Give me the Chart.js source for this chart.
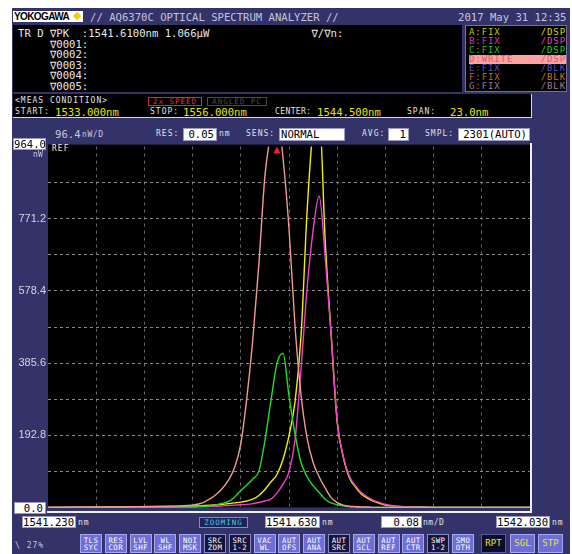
<!DOCTYPE html>
<html>
<head>
<meta charset="utf-8">
<script src="https://cdn.jsdelivr.net/npm/chart.js@4.4.1/dist/chart.umd.min.js"></script>
<style>
  html, body { margin: 0; padding: 0; background: #ffffff; }
  body { width: 572px; height: 554px; position: relative; overflow: hidden; }
  .abs { position: absolute; white-space: pre; }
  .big { font-family: 'DejaVu Sans Mono', monospace; font-size: 10.6px; line-height: 12px; }
  .sm  { font-family: 'DejaVu Sans Mono', monospace; font-size: 8px; letter-spacing: 1px; line-height: 10px; }
  .screen { left: 12px; top: 8px; width: 558px; height: 546px; background: #33336a; }
  .blk { background: #000000; }
  .valbox { background: #ffffff; color: #000000; border: 1px solid #9a9ac0; box-sizing: border-box;
            text-align: right; padding-right: 2px; }
  .btn { width: 22px; height: 19px; box-sizing: border-box; text-align: center; color: #ffffff;
         font-family: 'DejaVu Sans Mono', monospace; font-size: 7.4px; line-height: 7.6px; padding-top: 1.5px; letter-spacing: 0.4px; }
  .btn.light { background: #6e6ed6; border: 1px solid #a8a8f0; }
  .btn.dark  { background: #14143c; border: 1px solid #8a8ac8; }
  .run { width: 25px; height: 19px; box-sizing: border-box; text-align: center; color: #e8e820;
         font-family: 'DejaVu Sans Mono', monospace; font-size: 9px; line-height: 17px; }
  .row { left: 469px; width: 97px; height: 9px; font-family: 'DejaVu Sans Mono', monospace;
         font-size: 9px; line-height: 9px; letter-spacing: 0.9px; }
  .row span.r { position: absolute; right: 0; top: 0; }
  #plotBox { position: absolute; left: 12px; top: 138px; width: 521px; height: 378px; }
  #plotBox canvas { display: block; }
</style>
</head>
<body>
<div class="abs screen"></div>

<!-- header bar -->
<div class="abs" style="left:13px;top:11px;width:70px;height:11px;background:#ffffff;"></div>
<div class="abs" style="left:14px;top:10px;font:bold 10px 'Liberation Sans',sans-serif;letter-spacing:-0.6px;line-height:13px;color:#000;">YOKOGAWA</div>
<div class="abs" style="left:74px;top:13px;width:6px;height:6px;background:#f2d000;transform:rotate(45deg);"></div>
<div class="abs big" style="left:90px;top:11px;color:#c4c4dc;">// AQ6370C OPTICAL SPECTRUM ANALYZER //</div>
<div class="abs big" style="left:458px;top:11px;color:#c4c4dc;">2017 May 31 12:35</div>

<!-- marker readout -->
<div class="abs blk" style="left:13px;top:25px;width:449px;height:67px;"></div>
<div class="abs big" id="markerText" style="left:18px;top:28px;line-height:10.5px;color:#e8e8e8;"></div>

<!-- trace status -->
<div class="abs blk" style="left:465px;top:25px;width:102px;height:67px;border:1px solid #707094;box-sizing:border-box;"></div>
<div id="traceRows"></div>

<!-- measurement condition -->
<div class="abs blk" style="left:13px;top:94px;width:519px;height:24px;border-right:1px solid #d8d8d8;border-bottom:1px solid #d8d8d8;box-sizing:border-box;"></div>
<div class="abs sm" style="left:15px;top:96px;color:#e0e0e0;">&lt;MEAS CONDITION&gt;</div>
<div class="abs sm" style="left:148px;top:97px;width:54px;height:9px;border:1px solid #e02828;box-sizing:border-box;color:#e83030;text-align:center;line-height:8px;font-size:7.5px;">2x SPEED</div>
<div class="abs sm" style="left:207px;top:97px;width:60px;height:9px;border:1px solid #4a4a4a;box-sizing:border-box;color:#4a4a4a;text-align:center;line-height:8px;font-size:7.5px;">ANGLED PC</div>
<div class="abs sm" style="left:15px;top:107px;color:#e0e0e0;">START:</div>
<div class="abs big" id="startVal" style="left:55px;top:106px;color:#e6e600;"></div>
<div class="abs sm" style="left:150px;top:107px;color:#e0e0e0;">STOP:</div>
<div class="abs big" id="stopVal" style="left:183px;top:106px;color:#e6e600;"></div>
<div class="abs sm" style="left:275px;top:107px;color:#e0e0e0;letter-spacing:0.4px;">CENTER:</div>
<div class="abs big" id="centerVal" style="left:317px;top:106px;color:#e6e600;"></div>
<div class="abs sm" style="left:407px;top:107px;color:#e0e0e0;">SPAN:</div>
<div class="abs big" id="spanVal" style="left:450px;top:106px;color:#e6e600;"></div>

<!-- setting row -->
<div class="abs big" id="scaleVal" style="left:55px;top:128px;color:#c8c8dc;"></div>
<div class="abs sm" style="left:82px;top:130px;color:#c8c8dc;letter-spacing:0.6px;">nW/D</div>
<div class="abs sm" style="left:156px;top:129px;color:#e0e0e0;">RES:</div>
<div class="abs big valbox" style="left:183px;top:128px;width:34px;height:13px;line-height:11px;">0.05</div>
<div class="abs sm" style="left:219px;top:129px;color:#e0e0e0;">nm</div>
<div class="abs sm" style="left:246px;top:129px;color:#e0e0e0;">SENS:</div>
<div class="abs big valbox" style="left:279px;top:128px;width:66px;height:13px;line-height:11px;text-align:left;padding-left:1px;">NORMAL</div>
<div class="abs sm" style="left:362px;top:129px;color:#e0e0e0;">AVG:</div>
<div class="abs big valbox" style="left:388px;top:128px;width:21px;height:13px;line-height:11px;">1</div>
<div class="abs sm" style="left:425px;top:129px;color:#e0e0e0;">SMPL:</div>
<div class="abs big valbox" style="left:458px;top:128px;width:72px;height:13px;line-height:11px;">2301(AUTO)</div>

<!-- plot -->
<div id="plotBox"><canvas id="osa" width="521" height="378"></canvas></div>
<div class="abs" style="left:530px;top:143px;width:2px;height:370px;background:#f0f0f0;"></div>
<div class="abs" style="left:47px;top:511px;width:485px;height:2px;background:#f0f0f0;"></div>
<div class="abs sm" style="left:52px;top:144px;color:#f0f0f0;">REF</div>
<div class="abs big valbox" id="refBox" style="left:13px;top:138px;width:33px;height:12px;line-height:10px;"></div>
<div class="abs sm" style="left:33px;top:150px;color:#c8c8dc;letter-spacing:0.3px;">nW</div>
<div class="abs big valbox" id="zeroBox" style="left:14px;top:502px;width:32px;height:12px;line-height:10px;"></div>

<!-- wavelength readouts -->
<div class="abs big valbox" id="wlStart" style="left:22px;top:516px;width:54px;height:12px;line-height:10px;"></div>
<div class="abs sm" style="left:78px;top:518px;color:#e0e0e0;">nm</div>
<div class="abs sm" style="left:199px;top:517px;width:49px;height:11px;border:1px solid #30b4c8;box-sizing:border-box;color:#40d0e0;text-align:center;line-height:9px;font-size:7.5px;background:#22225a;">ZOOMING</div>
<div class="abs big valbox" id="wlCenter" style="left:265px;top:516px;width:55px;height:12px;line-height:10px;"></div>
<div class="abs sm" style="left:322px;top:518px;color:#e0e0e0;">nm</div>
<div class="abs big valbox" id="wlDiv" style="left:381px;top:516px;width:41px;height:12px;line-height:10px;"></div>
<div class="abs sm" style="left:423px;top:518px;color:#e0e0e0;letter-spacing:0.5px;">nm/D</div>
<div class="abs big valbox" id="wlStop" style="left:496px;top:516px;width:54px;height:12px;line-height:10px;"></div>
<div class="abs sm" style="left:552px;top:518px;color:#e0e0e0;">nm</div>

<!-- soft keys -->
<div id="keys"></div>
<div class="abs sm" style="left:15px;top:541px;color:#c8c8dc;">\ 27%</div>

<script>
// Stored trace samples (wavelength in nm, power in nW)
const wavelengths = [
  1541.23, 1541.28, 1541.33, 1541.38, 1541.42, 1541.45,
  1541.47, 1541.48, 1541.49, 1541.50, 1541.51, 1541.52, 1541.53, 1541.54, 1541.55, 1541.56,
  1541.57, 1541.58, 1541.59, 1541.60, 1541.61, 1541.62, 1541.63, 1541.64, 1541.65, 1541.66,
  1541.67, 1541.68, 1541.69, 1541.70, 1541.71, 1541.72, 1541.73, 1541.74, 1541.75, 1541.76,
  1541.77, 1541.78, 1541.79, 1541.80, 1541.82, 1541.85, 1541.90, 1541.96, 1542.03
];
const traceA = [
  0, 0, 1, 1, 2, 3,
  4, 4, 5, 6, 7, 8, 10, 12, 14, 17,
  22, 32, 48, 68, 88, 128, 192, 282, 458, 790,
  1010, 1060, 715, 460, 228, 135, 80, 55, 36, 25,
  17, 11, 6, 4, 2, 1, 0, 0, 0
];
const traceB = [
  0, 0, 0, 0, 1, 1,
  1, 2, 2, 3, 3, 4, 5, 6, 7, 8,
  10, 13, 17, 22, 38, 62, 95, 180, 370, 585,
  740, 832, 670, 462, 230, 137, 84, 58, 40, 28,
  19, 13, 8, 5, 2, 1, 0, 0, 0
];
const traceC = [
  0, 0, 0, 0, 0, 1,
  1, 2, 3, 4, 7, 11, 16, 28, 45, 60,
  76, 97, 178, 285, 385, 412, 298, 196, 120, 82,
  58, 40, 22, 12, 7, 4, 2, 1, 0, 0,
  0, 0, 0, 0, 0, 0, 0, 0, 0
];
const traceD = [
  0, 1, 1, 2, 3, 4,
  6, 9, 15, 24, 36, 52, 74, 108, 170, 292,
  450, 650, 885, 1000, 1066, 935, 745, 484, 300, 185,
  120, 82, 52, 26, 13, 6, 3, 2, 1, 1,
  0, 0, 0, 0, 0, 0, 0, 0, 0
];

// Axis settings: zoomed span, level scale and grid divisions
const wlTicks = [1541.23, 1541.31, 1541.39, 1541.47, 1541.55, 1541.63,
                 1541.71, 1541.79, 1541.87, 1541.95, 1542.03];
const levelTicks = [0, 96.4, 192.8, 289.2, 385.6, 482.0, 578.4, 674.8, 771.2, 867.6, 964.0];
const labelledLevels = [192.8, 385.6, 578.4, 771.2];
const refLevel = 964.0;
const levelPerDiv = 96.4;
const sweepStart = 1533.000, sweepStop = 1556.000;

// Peak marker on trace D
const markerWl = 1541.61;
const markerPower = 1066;

// Trace status list
const traceStatus = [
  ['A:FIX', '/DSP', '#c6c600', '#dcdc00'],
  ['B:FIX', '/DSP', '#d038b8', '#e040c8'],
  ['C:FIX', '/DSP', '#20c020', '#20d020'],
  ['D:WRITE', '/DSP', '#d85c5c', '#d85c5c'],
  ['E:FIX', '/BLK', '#5454b8', '#5454c0'],
  ['F:FIX', '/BLK', '#c07010', '#c87810'],
  ['G:FIX', '/BLK', '#a07898', '#a07898']
];

const softKeys = [
  ['TLS','SYC',0], ['RES','COR',0], ['LVL','SHF',0], ['WL','SHF',0], ['NOI','MSK',0],
  ['SRC','ZOM',1], ['SRC','1-2',1], ['VAC','WL',0], ['AUT','OFS',0], ['AUT','ANA',0],
  ['AUT','SRC',1], ['AUT','SCL',0], ['AUT','REF',0], ['AUT','CTR',0], ['SWP','1-2',1],
  ['SMO','OTH',0]
];
const runKeys = [['RPT', 1], ['SGL', 0], ['STP', 0]];

// ---- text panels ----
const xMin = wlTicks[0], xMax = wlTicks[wlTicks.length - 1];
document.getElementById('markerText').textContent =
  'TR D \u2207PK  :' + markerWl.toFixed(4) + 'nm ' + (markerPower / 1000).toFixed(3) + '\u03bcW' +
  '                \u2207/\u2207n:\n' +
  '     \u22070001:\n     \u22070002:\n     \u22070003:\n     \u22070004:\n     \u22070005:';
document.getElementById('startVal').textContent = sweepStart.toFixed(3) + 'nm';
document.getElementById('stopVal').textContent = sweepStop.toFixed(3) + 'nm';
document.getElementById('centerVal').textContent = ((sweepStart + sweepStop) / 2).toFixed(3) + 'nm';
document.getElementById('spanVal').textContent = (sweepStop - sweepStart).toFixed(1) + 'nm';
document.getElementById('scaleVal').textContent = levelPerDiv.toFixed(1);
document.getElementById('refBox').textContent = refLevel.toFixed(1);
document.getElementById('zeroBox').textContent = (0).toFixed(1);
document.getElementById('wlStart').textContent = xMin.toFixed(3);
document.getElementById('wlCenter').textContent = ((xMin + xMax) / 2).toFixed(3);
document.getElementById('wlDiv').textContent = ((xMax - xMin) / (wlTicks.length - 1)).toFixed(2);
document.getElementById('wlStop').textContent = xMax.toFixed(3);

const rows = document.getElementById('traceRows');
traceStatus.forEach((t, k) => {
  const d = document.createElement('div');
  d.className = 'abs row';
  d.style.top = (28 + 9.05 * k).toFixed(1) + 'px';
  if (t[0].startsWith('D:')) { d.style.background = '#ffa2a2'; }
  d.innerHTML = '<span style="color:' + t[2] + '">' + t[0] + '</span><span class="r" style="color:' + t[3] + '">' + t[1] + '</span>';
  rows.appendChild(d);
});

const keys = document.getElementById('keys');
softKeys.forEach((k, i) => {
  const d = document.createElement('div');
  d.className = 'abs btn ' + (k[2] ? 'dark' : 'light');
  d.style.left = (80 + 24.8 * i).toFixed(1) + 'px';
  d.style.top = '534px';
  d.textContent = k[0] + '\n' + k[1];
  keys.appendChild(d);
});
runKeys.forEach((k, i) => {
  const d = document.createElement('div');
  d.className = 'abs run';
  d.style.left = [481, 510, 538][i] + 'px';
  d.style.top = '534px';
  d.style.background = k[1] ? '#0c0c2c' : '#6e6ed6';
  d.style.border = '1px solid ' + (k[1] ? '#5a5a9a' : '#a8a8f0');
  d.textContent = k[0];
  keys.appendChild(d);
});

// ---- chart ----
const toPoints = (vals) => wavelengths.map((w, i) => ({ x: w, y: vals[i] }));

const plotBackground = {
  id: 'plotBackground',
  beforeDraw(chart) {
    const a = chart.chartArea, c = chart.ctx;
    c.save();
    c.fillStyle = '#000000';
    c.fillRect(a.left, a.top - 2, a.right - a.left, a.bottom - a.top + 2);
    c.restore();
  }
};
const peakMarker = {
  id: 'peakMarker',
  afterDatasetsDraw(chart) {
    const x = chart.scales.x.getPixelForValue(markerWl);
    const top = chart.chartArea.top;
    const c = chart.ctx;
    c.save();
    c.fillStyle = '#ff1e1e';
    c.beginPath();
    c.moveTo(x, top);
    c.lineTo(x - 3.5, top + 7);
    c.lineTo(x + 3.5, top + 7);
    c.closePath();
    c.fill();
    c.restore();
  }
};

const edgeHidden = (ticks, color) => (ctx) => {
  const v = ctx.tick ? ctx.tick.value : null;
  if (v === null) return 'rgba(0,0,0,0)';
  return (Math.abs(v - ticks[0]) < 1e-6 || Math.abs(v - ticks[ticks.length - 1]) < 1e-6)
    ? 'rgba(0,0,0,0)' : color;
};

const lineStyle = (color) => ({
  borderColor: color,
  borderWidth: 1.4,
  pointRadius: 0,
  cubicInterpolationMode: 'monotone',
  fill: false,
  clip: { left: 0, top: 0, right: 0, bottom: 3 }
});

new Chart(document.getElementById('osa'), {
  type: 'line',
  data: {
    datasets: [
      Object.assign({ label: 'D', data: toPoints(traceD) }, lineStyle('#f29a90')),
      Object.assign({ label: 'C', data: toPoints(traceC) }, lineStyle('#1ee01e')),
      Object.assign({ label: 'B', data: toPoints(traceB) }, lineStyle('#f040d0')),
      Object.assign({ label: 'A', data: toPoints(traceA) }, lineStyle('#f2f000'))
    ]
  },
  options: {
    responsive: false,
    animation: false,
    devicePixelRatio: 1,
    layout: { padding: { top: 7, right: 3, left: 0, bottom: 0 } },
    plugins: { legend: { display: false }, tooltip: { enabled: false } },
    scales: {
      x: {
        type: 'linear',
        min: xMin,
        max: xMax,
        afterBuildTicks: (axis) => { axis.ticks = wlTicks.map(v => ({ value: v })); },
        afterFit: (axis) => { axis.height = 6; },
        ticks: { display: false, autoSkip: false },
        grid: { color: edgeHidden(wlTicks, '#6a6a6a'), lineWidth: 1, drawTicks: false },
        border: { display: false, dash: [3, 4] }
      },
      y: {
        type: 'linear',
        min: levelTicks[0],
        max: levelTicks[levelTicks.length - 1],
        afterBuildTicks: (axis) => { axis.ticks = levelTicks.map(v => ({ value: v })); },
        afterFit: (axis) => { axis.width = 36; },
        ticks: {
          autoSkip: false,
          padding: 2,
          color: '#d4d4de',
          font: { family: "'Liberation Sans', Arial, sans-serif", size: 11 },
          callback: (v) => labelledLevels.some(l => Math.abs(l - v) < 1e-6) ? Number(v).toFixed(1) : ''
        },
        grid: { color: edgeHidden(levelTicks, '#8a8a8a'), lineWidth: 1, drawTicks: false },
        border: { display: false, dash: [3, 3] }
      }
    }
  },
  plugins: [plotBackground, peakMarker]
});
</script>
</body>
</html>
